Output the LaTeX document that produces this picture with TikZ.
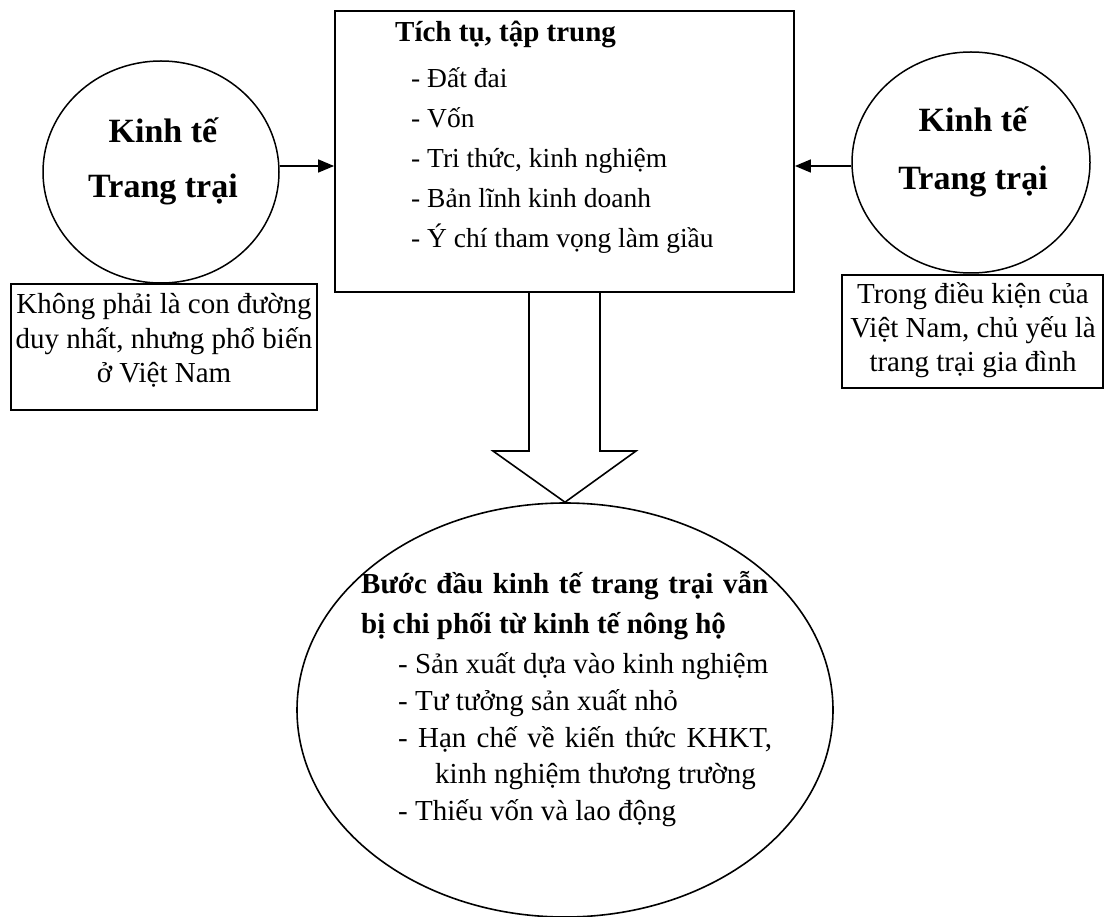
\documentclass[tikz,border=0pt]{standalone}
\usepackage{fontspec}
\setmainfont{Liberation Serif}
\usetikzlibrary{arrows.meta,shapes.geometric}

\tikzset{
  txt/.style={inner sep=0pt, font=\fontsize{29}{35}\selectfont},
  listtxt/.style={inner sep=0pt, font=\fontsize{27.5}{33}\selectfont},
  btxt/.style={inner sep=0pt, font=\fontsize{29}{35}\selectfont\bfseries},
  headtxt/.style={inner sep=0pt, font=\fontsize{34}{40}\selectfont\bfseries},
  farm/.style={draw, line width=1.5pt, ellipse, inner sep=0pt},
  panel/.style={draw, line width=1.8pt, rectangle, inner sep=0pt},
  feed/.style={line width=1.6pt, -{Triangle[length=16pt,width=13pt]}},
}

\begin{document}
\begin{tikzpicture}[x=1pt, y=-1pt]
  \useasboundingbox (0,0) rectangle (1105,917);

  % central box: accumulation and concentration
  \node[panel, minimum width=459pt, minimum height=281pt] (acc) at (564.5,151.5) {};
  \node[btxt, anchor=base west] (accT) at (395,42) {Tích tụ, tập trung};
  \node[listtxt, anchor=base west] (acc1) at (411,88)  {- Đất đai};
  \node[listtxt, anchor=base west] (acc2) at (411,128) {- Vốn};
  \node[listtxt, anchor=base west] (acc3) at (411,168) {- Tri thức, kinh nghiệm};
  \node[listtxt, anchor=base west] (acc4) at (411,208) {- Bản lĩnh kinh doanh};
  \node[listtxt, anchor=base west] (acc5) at (411,248) {- Ý chí tham vọng làm giầu};

  % the two farm-economy circles
  \node[farm, minimum width=236pt, minimum height=222pt] (farmL) at (161,172) {};
  \node[headtxt, anchor=base] (farmL1) at (163,143) {Kinh tế};
  \node[headtxt, anchor=base] (farmL2) at (163,198) {Trang trại};

  \node[farm, minimum width=238pt, minimum height=221pt] (farmR) at (971,162.5) {};
  \node[headtxt, anchor=base] (farmR1) at (973,132) {Kinh tế};
  \node[headtxt, anchor=base] (farmR2) at (973,190) {Trang trại};

  % notes under the circles
  \node[panel, minimum width=306pt, minimum height=126pt] (noteL) at (164,347) {};
  \node[txt, anchor=base] (noteL1) at (164,313) {Không phải là con đường};
  \node[txt, anchor=base] (noteL2) at (164,348) {duy nhất, nhưng phổ biến};
  \node[txt, anchor=base] (noteL3) at (164,382) {ở Việt Nam};

  \node[panel, minimum width=261pt, minimum height=113pt] (noteR) at (972.5,331.5) {};
  \node[txt, anchor=base] (noteR1) at (973,303) {Trong điều kiện của};
  \node[txt, anchor=base] (noteR2) at (973,337) {Việt Nam, chủ yếu là};
  \node[txt, anchor=base] (noteR3) at (973,371) {trang trại gia đình};

  % arrows into the central box
  \coordinate (inL) at (acc.west |- 0,166);
  \coordinate (inR) at (acc.east |- 0,166);
  \draw[feed] (farmL.east |- inL) -- (inL);
  \draw[feed] (farmR.west |- inR) -- (inR);

  % lower ellipse: early stage of farm economy
  \node[draw, line width=1.6pt, ellipse, minimum width=536pt, minimum height=414pt] (stage) at (565,710) {};
  \node[btxt, anchor=base west] (st1) at (361,593) {\makebox[407pt][s]{Bước đầu kinh tế trang trại vẫn}};
  \node[btxt, anchor=base west] (st2) at (361,633) {bị chi phối từ kinh tế nông hộ};
  \node[txt, anchor=base west] (st3) at (398,673) {- Sản xuất dựa vào kinh nghiệm};
  \node[txt, anchor=base west] (st4) at (398,710) {- Tư tưởng sản xuất nhỏ};
  \node[txt, anchor=base west] (st5) at (398,747) {\makebox[374pt][s]{- Hạn chế về kiến thức KHKT,}};
  \node[txt, anchor=base west] (st6) at (435,783) {kinh nghiệm thương trường};
  \node[txt, anchor=base west] (st7) at (398,820) {- Thiếu vốn và lao động};

  % hollow block arrow from the box down to the ellipse
  \draw[line width=1.6pt, line join=miter, fill=white]
    (529,292) -- (529,451) -- (493,451) -- (stage.north) -- (636,451) -- (600,451) -- (600,292) -- cycle;
\end{tikzpicture}
\end{document}
